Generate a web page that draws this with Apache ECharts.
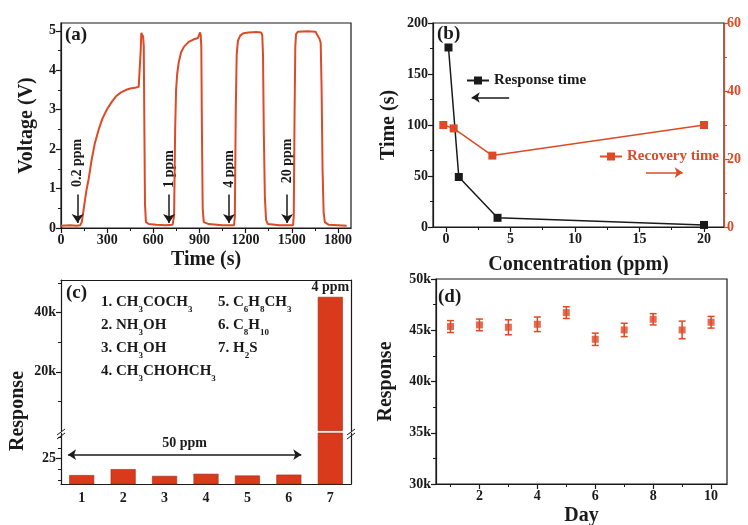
<!DOCTYPE html>
<html>
<head>
<meta charset="utf-8">
<title>H2S sensor</title>
<script src="https://cdn.jsdelivr.net/npm/echarts@6/dist/echarts.min.js"></script>
</head>
<body style="margin:0">
<div id="main" style="width:748px;height:525px;"></div>
<script>
// (a) dynamic response: time (s) / voltage (V)
var timeA = [0, 60, 100, 125, 135, 150, 165, 180, 200, 220, 245, 270, 300, 330, 360, 390, 420, 450, 480, 505, 515,
    518, 522, 528, 534, 538, 542, 546, 552, 570, 620, 680, 725, 735, 742, 748, 755, 765, 780, 800, 830, 860, 890, 900,
    904, 908, 912, 916, 921, 928, 960, 1050, 1125, 1130, 1136, 1142, 1150, 1165, 1185, 1220, 1270, 1300, 1308, 1313,
    1318, 1325, 1333, 1345, 1420, 1508, 1513, 1518, 1523, 1528, 1540, 1600, 1655, 1665, 1680, 1688, 1694, 1700, 1707,
    1715, 1740, 1800, 1857];
var voltA = [0.06, 0.07, 0.06, 0.07, 0.15, 0.55, 0.95, 1.25, 1.75, 2.15, 2.5, 2.78, 3.02, 3.2, 3.35, 3.44, 3.5, 3.54, 3.56, 3.58, 3.6,
    4.5, 4.95, 4.93, 4.85, 4.6, 2.5, 0.6, 0.15, 0.1, 0.08, 0.07, 0.08, 0.3, 2.5, 3.5, 3.9, 4.2, 4.45, 4.6, 4.72, 4.78, 4.82, 4.85,
    4.96, 4.9, 4.6, 2.5, 0.5, 0.15, 0.1, 0.07, 0.07, 0.3, 3.0, 4.4, 4.75, 4.88, 4.94, 4.96, 4.97, 4.96, 4.9, 4.4,
    2.5, 0.8, 0.2, 0.1, 0.07, 0.07, 0.3, 2.8, 4.6, 4.92, 4.98, 4.99, 4.98, 4.9, 4.8, 4.7, 3.5, 1.5, 0.4,
    0.15, 0.08, 0.07, 0.06];
var pulseAt = [108, 702, 1092, 1470];
var pulseText = ['0.2 ppm', '1 ppm', '4 ppm', '20 ppm'];
var pulseTextY = [1.65, 1.5, 1.5, 1.7];

// (b) response / recovery time vs concentration
var concResp = [0.2, 1, 4, 20];
var respTime = [176, 49, 9, 2];
var concRec = [-0.2, 0.6, 3.6, 20];
var recTime = [30, 29, 21, 30];

// (c) selectivity
var gasIds = ['1', '2', '3', '4', '5', '6', '7'];
var gasResp = [21.1, 22.5, 20.9, 21.4, 21.0, 21.2, 45300];
var gasNote = ['', '', '', '', '', '', '4 ppm'];

// (d) stability over 10 days
var days = [1, 2, 3, 4, 5, 6, 7, 8, 9, 10];
var dayResp = [45360, 45520, 45290, 45580, 46720, 44120, 45030, 46070, 45030, 45780];
var dayErr = [580, 570, 730, 710, 570, 600, 650, 550, 860, 570];

// tick positions
var tickAx = [0, 300, 600, 900, 1200, 1500, 1800], minAx = [150, 450, 750, 1050, 1350, 1650];
var tickAy = [0, 1, 2, 3, 4, 5], minAy = [0.5, 1.5, 2.5, 3.5, 4.5];
var tickBx = [0, 5, 10, 15, 20], minBx = [2.5, 7.5, 12.5, 17.5];
var tickBy = [0, 50, 100, 150, 200], minBy = [25, 75, 125, 175];
var tickBy2 = [0, 20, 40, 60], minBy2 = [10, 30, 50];
var tickCup = [20000, 40000], minCup = [10000, 30000, 50000];
var tickClo = [25], minClo = [20, 22.5, 27.5, 30];
var tickDx = [2, 4, 6, 8, 10], minDx = [1, 3, 5, 7, 9];
var tickDy = [30000, 35000, 40000, 45000, 50000], minDy = [32500, 37500, 42500, 47500];

var F = '"Liberation Serif", "Times New Roman", serif';
var INK = '#1a1a1a', RED = '#dc4a26', BAR = '#d93a1c';
var kfmt = function (v) { return v / 1000 + 'k'; };
var plain = function (v) { return '' + v; };

function valAxis(grid, pos, min, max, ticks, color, fmt) {
    color = color || INK;
    return {
        type: 'value', gridIndex: grid, position: pos, min: min, max: max,
        axisLine: {show: true, onZero: false, lineStyle: {color: color, width: 1.2}},
        splitLine: {show: false},
        axisTick: {show: true, length: 5, customValues: ticks, lineStyle: {color: color, width: 1.2}},
        axisLabel: {show: true, customValues: ticks, color: color, fontFamily: F, fontWeight: 'bold', fontSize: 14,
            margin: 5, formatter: fmt || plain}
    };
}
function minorAxis(grid, pos, min, max, vals, color) {
    return {
        type: 'value', gridIndex: grid, position: pos, min: min, max: max,
        axisLine: {show: false, onZero: false}, splitLine: {show: false}, axisLabel: {show: false},
        axisTick: {show: true, length: 3, customValues: vals, lineStyle: {color: color || INK, width: 1}}
    };
}
function frameAxis(grid, pos, min, max) {
    return {
        type: 'value', gridIndex: grid, position: pos, min: min, max: max,
        axisLine: {show: true, onZero: false, lineStyle: {color: INK, width: 1.2}},
        splitLine: {show: false}, axisLabel: {show: false}, axisTick: {show: false}
    };
}
function named(ax, name, gap) {
    ax.name = name;
    ax.nameLocation = 'middle';
    ax.nameGap = gap;
    ax.nameTextStyle = {fontFamily: F, fontWeight: 'bold', fontSize: 20, color: INK};
    return ax;
}
var catStyle = {fontFamily: F, fontWeight: 'bold', fontSize: 14, color: INK};

var xAxes = [
    named(valAxis(0, 'bottom', 0, 1885, tickAx), 'Time (s)', 22),              // 0
    minorAxis(0, 'bottom', 0, 1885, minAx),                                    // 1
    named(valAxis(1, 'bottom', -1, 21.55, tickBx), 'Concentration (ppm)', 28), // 2
    minorAxis(1, 'bottom', -1, 21.55, minBx),                                  // 3
    {type: 'category', gridIndex: 2, position: 'top', data: gasIds,            // 4
        axisLine: {show: true, onZero: false, lineStyle: {color: INK, width: 1.2}},
        axisTick: {show: false}, axisLabel: {show: false}},
    {type: 'category', gridIndex: 3, position: 'bottom', data: gasIds,         // 5
        axisLine: {show: true, onZero: false, lineStyle: {color: INK, width: 1.2}},
        axisTick: {show: false}, axisLabel: Object.assign({margin: 7}, catStyle)},
    {type: 'value', gridIndex: 3, min: -0.5, max: 6.5, show: false},          // 6
    named(valAxis(4, 'bottom', 0.5, 10.55, tickDx), 'Day', 22),                // 7
    minorAxis(4, 'bottom', 0.5, 10.55, minDx)                                  // 8
];
var yAxes = [
    named(valAxis(0, 'left', 0, 5.2, tickAy), 'Voltage (V)', 24),              // 0
    minorAxis(0, 'left', 0, 5.2, minAy),                                       // 1
    named(valAxis(1, 'left', 0, 200, tickBy), 'Time (s)', 34),                 // 2
    minorAxis(1, 'left', 0, 200, minBy),                                       // 3
    valAxis(1, 'right', 0, 60, tickBy2, RED),                                  // 4
    minorAxis(1, 'right', 0, 60, minBy2, RED),                                 // 5
    valAxis(2, 'left', 0, 51000, tickCup, INK, kfmt),                          // 6
    minorAxis(2, 'left', 0, 51000, minCup),                                    // 7
    frameAxis(2, 'right', 0, 51000),                                           // 8
    valAxis(3, 'left', 19, 31, tickClo),                                       // 9
    minorAxis(3, 'left', 19, 31, minClo),                                      // 10
    frameAxis(3, 'right', 19, 31),                                             // 11
    named(valAxis(4, 'left', 30000, 50000, tickDy, INK, kfmt), 'Response', 40),// 12
    minorAxis(4, 'left', 30000, 50000, minDy)                                  // 13
];
yAxes[4].axisLabel.margin = 3;

function gridBox(left, top, width, height, frame) {
    return {left: left, top: top, width: width, height: height, show: frame,
        borderColor: INK, borderWidth: 1.2, backgroundColor: 'transparent', outerBoundsMode: 'none'};
}

function slash(cx, cy) {
    return [
        {type: 'line', shape: {x1: cx - 4, y1: cy + 1, x2: cx + 4, y2: cy - 5}, style: {stroke: INK, lineWidth: 1}},
        {type: 'line', shape: {x1: cx - 4, y1: cy + 5, x2: cx + 4, y2: cy - 1}, style: {stroke: INK, lineWidth: 1}}
    ];
}
function panelTag(txt, x, y) {
    return {type: 'text', x: x, y: y, style: {text: txt, fontFamily: F, fontWeight: 'bold', fontSize: 19, fill: INK, verticalAlign: 'middle'}};
}
var richF = {
    n: {fontFamily: F, fontWeight: 'bold', fontSize: 15, lineHeight: 23, fill: INK, color: INK},
    s: {fontFamily: F, fontWeight: 'bold', fontSize: 9, lineHeight: 9, verticalAlign: 'bottom', fill: INK, color: INK}
};
var legendText = {fontFamily: F, fontWeight: 'bold', fontSize: 15};

var myChart = echarts.init(document.getElementById('main'));
var option = {
    animation: false,
    backgroundColor: '#fff',
    grid: [
        gridBox(61, 23, 290, 205, true),
        gridBox(433, 23, 291, 204, true),
        gridBox(61, 280, 290, 151, false),
        gridBox(61, 433, 290, 51, false),
        gridBox(436, 279, 291, 205, true)
    ],
    xAxis: xAxes,
    yAxis: yAxes,
    legend: [
        {data: ['Response time'], left: 466, top: 73, padding: 0, itemWidth: 22, itemHeight: 10,
            textStyle: Object.assign({color: INK}, legendText)},
        {data: ['Recovery time'], left: 599, top: 149, padding: 0, itemWidth: 22, itemHeight: 10,
            textStyle: Object.assign({color: RED}, legendText)}
    ],
    graphic: [
        panelTag('(a)', 65, 35),
        panelTag('(b)', 437, 34),
        panelTag('(c)', 66, 293),
        panelTag('(d)', 438, 297),
        {type: 'text', x: 18, y: 411, rotation: Math.PI / 2,
            style: {text: 'Response', fontFamily: F, fontWeight: 'bold', fontSize: 20, fill: INK, align: 'center', verticalAlign: 'middle'}},
        {type: 'text', x: 101, y: 291,
            style: {text: '{n|1. CH}{s|3}{n|COCH}{s|3}\n{n|2. NH}{s|3}{n|OH}\n{n|3. CH}{s|3}{n|OH}\n{n|4. CH}{s|3}{n|CHOHCH}{s|3}', rich: richF}},
        {type: 'text', x: 218, y: 291,
            style: {text: '{n|5. C}{s|6}{n|H}{s|8}{n|CH}{s|3}\n{n|6. C}{s|8}{n|H}{s|10}\n{n|7. H}{s|2}{n|S}', rich: richF}}
    ].concat(slash(61, 434), slash(351, 434)),
    series: [
        {   // (a) voltage trace
            type: 'line', xAxisIndex: 0, yAxisIndex: 0, showSymbol: false,
            data: timeA.map(function (t, i) { return [t, voltA[i]]; }),
            lineStyle: {color: RED, width: 2}, itemStyle: {color: RED},
            markLine: {
                silent: true, symbol: ['none', 'arrow'], symbolSize: 9,
                lineStyle: {color: INK, width: 1.5, type: 'solid'}, label: {show: false},
                data: pulseAt.map(function (t) { return [{coord: [t, 0.85]}, {coord: [t, 0.13]}]; })
            }
        },
        {   // (a) injection labels
            type: 'scatter', xAxisIndex: 0, yAxisIndex: 0, symbolSize: 0, silent: true,
            data: pulseAt.map(function (t, i) { return [t, pulseTextY[i], pulseText[i]]; }),
            label: {show: true, position: 'inside', rotate: 90, color: INK, textBorderWidth: 0, opacity: 1,
                fontFamily: F, fontWeight: 'bold', fontSize: 14,
                formatter: function (p) { return p.data[2]; }}
        },
        {
            name: 'Response time', type: 'line', xAxisIndex: 2, yAxisIndex: 2,
            symbol: 'rect', symbolSize: 8,
            data: concResp.map(function (c, i) { return [c, respTime[i]]; }),
            lineStyle: {color: INK, width: 1.5}, itemStyle: {color: INK},
            markLine: {
                silent: true, symbol: ['none', 'arrow'], symbolSize: 8,
                lineStyle: {color: INK, width: 1.5, type: 'solid'}, label: {show: false},
                data: [[{coord: [4.9, 127]}, {coord: [2.0, 127]}]]
            }
        },
        {
            name: 'Recovery time', type: 'line', xAxisIndex: 2, yAxisIndex: 4,
            symbol: 'rect', symbolSize: 8,
            data: concRec.map(function (c, i) { return [c, recTime[i]]; }),
            lineStyle: {color: RED, width: 1.5}, itemStyle: {color: RED},
            markLine: {
                silent: true, symbol: ['none', 'arrow'], symbolSize: 8,
                lineStyle: {color: RED, width: 1.5, type: 'solid'}, label: {show: false},
                data: [[{coord: [15.5, 16]}, {coord: [18.35, 16]}]]
            }
        },
        {   // (c) upper segment
            type: 'bar', xAxisIndex: 4, yAxisIndex: 6, barWidth: 25,
            itemStyle: {color: BAR, borderColor: '#9a2f17', borderWidth: 0.6},
            data: gasResp.map(function (v, i) {
                if (v <= 31) return '-';
                return gasNote[i] ? {value: v, label: {show: true, position: 'top', distance: 2, formatter: gasNote[i],
                    fontFamily: F, fontWeight: 'bold', fontSize: 14, color: INK}} : v;
            })
        },
        {   // (c) lower segment
            type: 'bar', xAxisIndex: 5, yAxisIndex: 9, barWidth: 25, clip: true,
            itemStyle: {color: BAR, borderColor: '#9a2f17', borderWidth: 0.6},
            data: gasResp
        },
        {   // (c) "50 ppm" double arrow
            type: 'line', xAxisIndex: 6, yAxisIndex: 9, data: [],
            markLine: {
                silent: true, symbol: ['arrow', 'arrow'], symbolSize: 8,
                lineStyle: {color: INK, width: 1.5, type: 'solid'},
                label: {show: true, position: 'middle', formatter: '50 ppm', distance: 4,
                    fontFamily: F, fontWeight: 'bold', fontSize: 14, color: INK},
                data: [[{coord: [-0.33, 25.9]}, {coord: [5.3, 25.9]}]]
            }
        },
        {   // (d) error bars
            type: 'custom', xAxisIndex: 7, yAxisIndex: 12,
            data: days.map(function (d, i) { return [d, dayResp[i] - dayErr[i], dayResp[i] + dayErr[i]]; }),
            encode: {x: 0, y: [1, 2]},
            renderItem: function (params, api) {
                var lo = api.coord([api.value(0), api.value(1)]);
                var hi = api.coord([api.value(0), api.value(2)]);
                var st = {stroke: RED, lineWidth: 1.5};
                return {type: 'group', children: [
                    {type: 'line', shape: {x1: lo[0], y1: lo[1], x2: hi[0], y2: hi[1]}, style: st},
                    {type: 'line', shape: {x1: lo[0] - 3.5, y1: lo[1], x2: lo[0] + 3.5, y2: lo[1]}, style: st},
                    {type: 'line', shape: {x1: hi[0] - 3.5, y1: hi[1], x2: hi[0] + 3.5, y2: hi[1]}, style: st}
                ]};
            }
        },
        {
            type: 'scatter', xAxisIndex: 7, yAxisIndex: 12, symbol: 'rect', symbolSize: 7,
            itemStyle: {color: RED},
            data: days.map(function (d, i) { return [d, dayResp[i]]; })
        }
    ]
};
myChart.setOption(option);
</script>
</body>
</html>
